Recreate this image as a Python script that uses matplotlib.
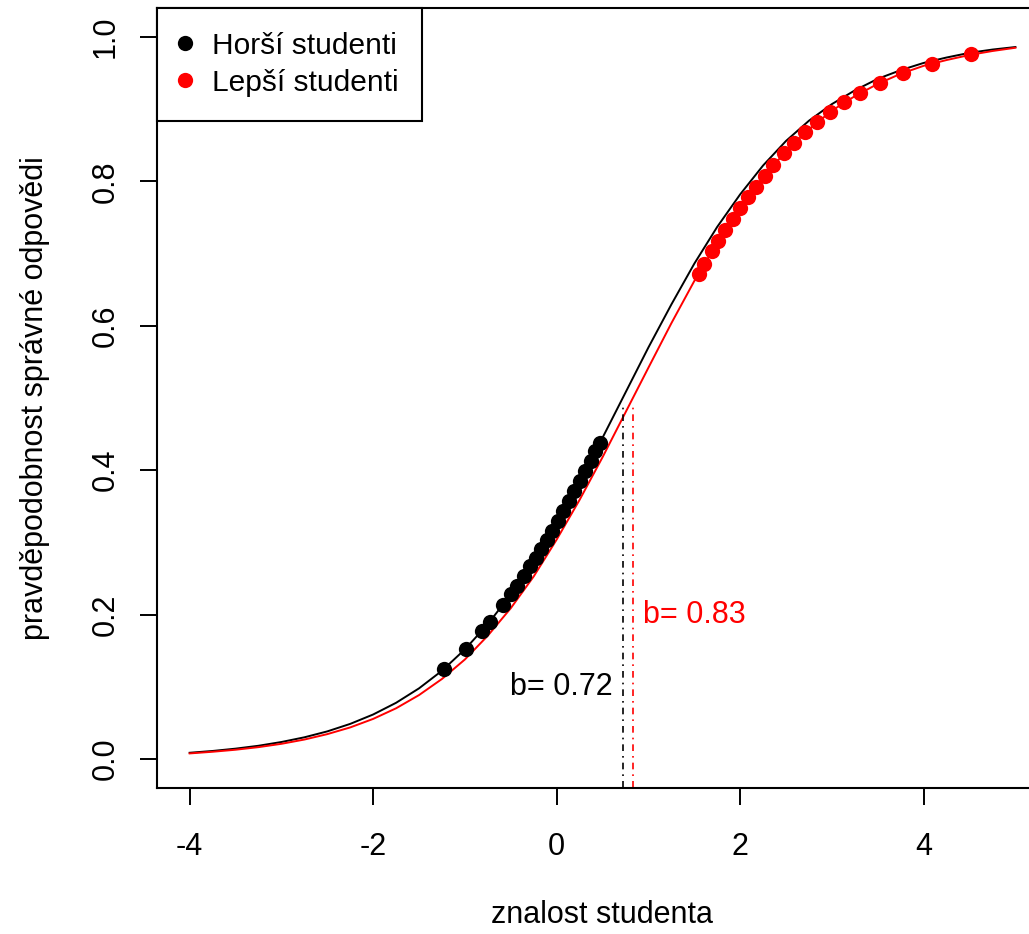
import numpy as np
import matplotlib
matplotlib.use("Agg")
import matplotlib.pyplot as plt
from matplotlib.lines import Line2D

plt.rcParams['font.family'] = ['Liberation Sans', 'DejaVu Sans']
plt.rcParams['axes.unicode_minus'] = False

# curves (at 0.25 steps)
curve_x = np.arange(-4, 5.001, 0.25)
black_curve = [0.0088, 0.0113, 0.0145, 0.0185, 0.0237, 0.0302, 0.0384, 0.0488, 0.0618,
               0.078, 0.098, 0.1224, 0.152, 0.187, 0.228, 0.275, 0.327, 0.385, 0.445,
               0.5075, 0.570, 0.6295, 0.686, 0.737, 0.782, 0.822, 0.856, 0.884, 0.907,
               0.926, 0.942, 0.954, 0.964, 0.9715, 0.978, 0.9825, 0.986]
red_curve = [0.0079, 0.0102, 0.0130, 0.0166, 0.0212, 0.0271, 0.0346, 0.0439, 0.0557,
             0.0704, 0.0887, 0.111, 0.138, 0.171, 0.209, 0.253, 0.304, 0.359, 0.418,
             0.480, 0.542, 0.6035, 0.662, 0.715, 0.763, 0.805, 0.842, 0.872, 0.898,
             0.918, 0.935, 0.949, 0.960, 0.968, 0.975, 0.9805, 0.985]

# students
horsi_x = [-1.23, -0.99, -0.81, -0.73, -0.58, -0.50, -0.43, -0.36, -0.29, -0.23, -0.17,
           -0.11, -0.05, 0.01, 0.07, 0.13, 0.19, 0.25, 0.31, 0.37, 0.42, 0.47]
horsi_y = [0.1245, 0.153, 0.178, 0.190, 0.214, 0.228, 0.240, 0.254, 0.267, 0.279, 0.291,
           0.304, 0.316, 0.330, 0.343, 0.357, 0.371, 0.385, 0.399, 0.413, 0.426, 0.438]
lepsi_x = [1.55, 1.61, 1.69, 1.76, 1.84, 1.92, 2.00, 2.09, 2.17, 2.27, 2.36, 2.48,
           2.59, 2.71, 2.84, 2.98, 3.13, 3.31, 3.52, 3.78, 4.09, 4.52]
lepsi_y = [0.672, 0.686, 0.703, 0.717, 0.733, 0.748, 0.763, 0.779, 0.792, 0.808, 0.822,
           0.839, 0.853, 0.868, 0.882, 0.896, 0.910, 0.923, 0.936, 0.950, 0.963, 0.976]

b_horsi = 0.72
b_lepsi = 0.83
b_line_top = 0.487

fig = plt.figure(figsize=(10.29, 9.34), dpi=100)
ax = fig.add_axes([0.1522, 0.1563, 0.8667, 0.8351])

ax.plot(curve_x, black_curve, color='black', lw=1.4)
ax.plot(curve_x, red_curve, color='red', lw=1.4)
ax.plot(horsi_x, horsi_y, 'o', color='black', ms=11, mec='none')
ax.plot(lepsi_x, lepsi_y, 'o', color='red', ms=11, mec='none')

# dash-dot lines at the difficulty values
ax.plot([b_horsi, b_horsi], [-0.1, b_line_top], color='black', lw=1.2, dashes=(1, 3, 4, 3))
ax.plot([b_lepsi, b_lepsi], [-0.1, b_line_top], color='red', lw=1.2, dashes=(1, 3, 4, 3))
ax.annotate('b= 0.72', (b_horsi, 0.1), xytext=(-7, 0), textcoords='offset points',
            ha='right', va='center', fontsize=22, color='black')
ax.annotate('b= 0.83', (b_lepsi, 0.2), xytext=(7, 0), textcoords='offset points',
            ha='left', va='center', fontsize=22, color='red')

ax.set_xlim(-4.36, 5.36)
ax.set_ylim(-0.04, 1.04)
ax.set_xticks([-4, -2, 0, 2, 4])
ax.set_yticks([0, 0.2, 0.4, 0.6, 0.8, 1.0])
ax.set_yticklabels(['0.0', '0.2', '0.4', '0.6', '0.8', '1.0'])
ax.tick_params(length=12, width=1.4, labelsize=22)
ax.tick_params(axis='x', pad=20)
ax.tick_params(axis='y', labelrotation=90, pad=14)
for lab in ax.get_yticklabels():
    lab.set_va('center')
for s in ax.spines.values():
    s.set_linewidth(1.5)

fig.text(602 / 1029, 1 - 915 / 934, 'znalost studenta', ha='center', va='center', fontsize=22)
fig.text(35 / 1029, 1 - 398 / 934, 'pravděpodobnost správné odpovědi', rotation=90,
         ha='center', va='center', fontsize=22)

handles = [Line2D([], [], marker='o', ls='none', color='black', ms=11, mec='none'),
           Line2D([], [], marker='o', ls='none', color='red', ms=11, mec='none')]
leg = ax.legend(handles, ['Horší studenti', 'Lepší studenti'], loc='upper left',
                borderaxespad=0, fancybox=False, edgecolor='black', fontsize=21.5,
                handlelength=0.3, handletextpad=0.75, borderpad=0.8, labelspacing=0.3,
                framealpha=1)
leg.get_frame().set_linewidth(1.5)

fig.savefig('out.png', dpi=100)
